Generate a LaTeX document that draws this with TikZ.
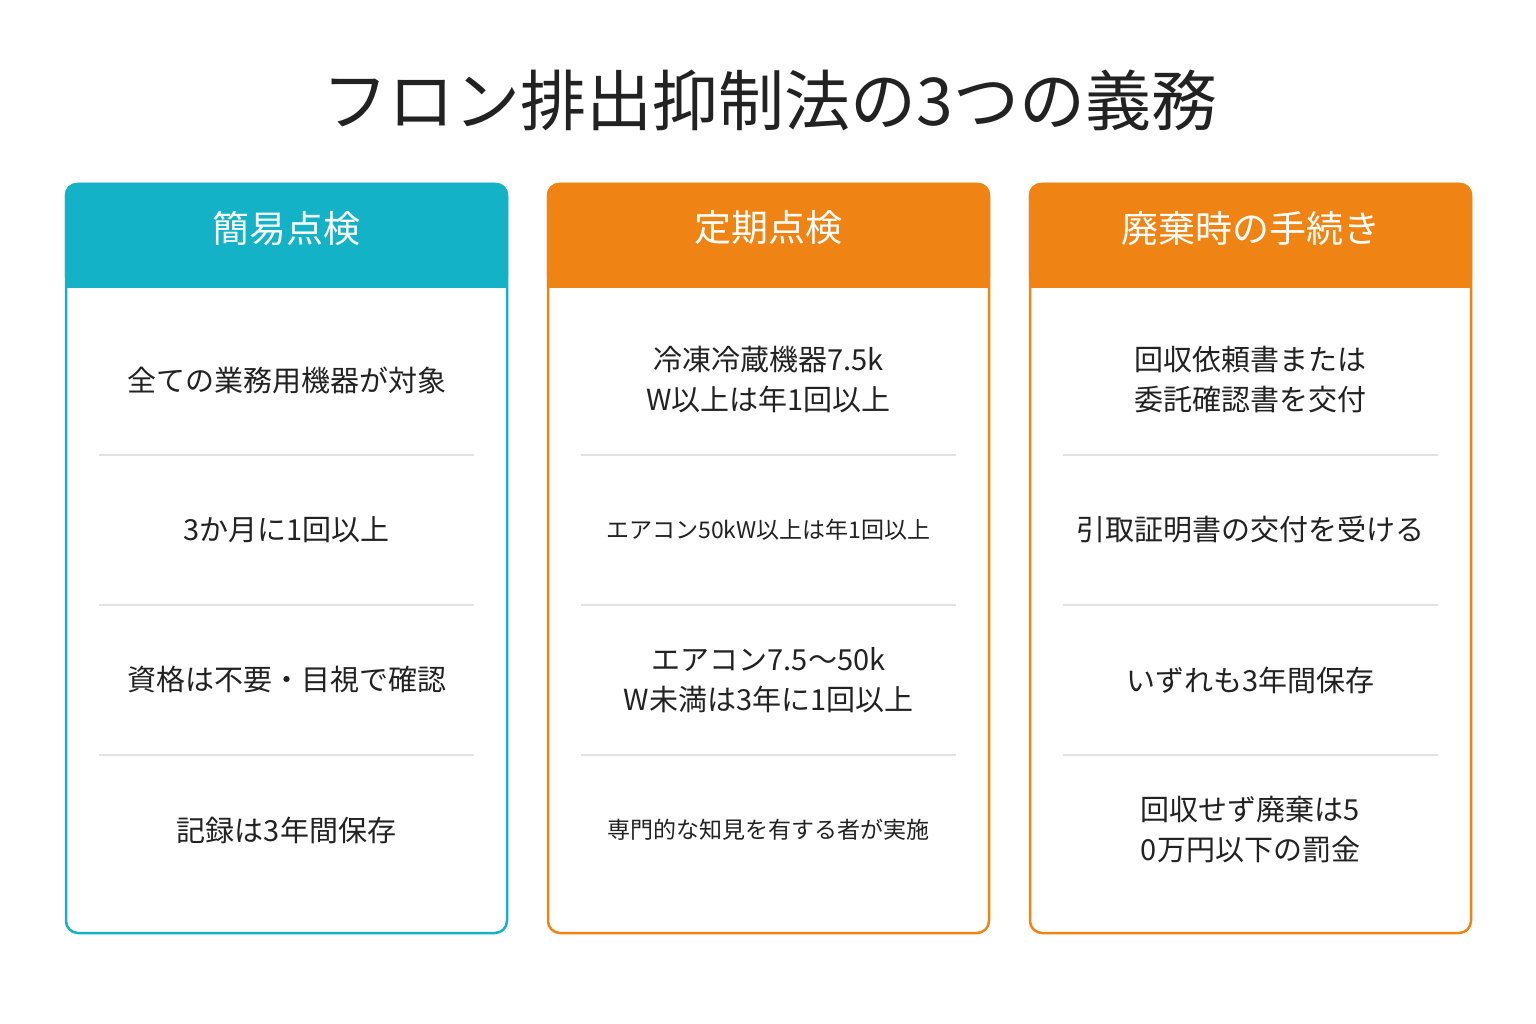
\documentclass[tikz,border=0pt]{standalone}
\usepackage{fontspec}
\setmainfont{Noto Sans CJK JP}
\begin{document}
\begin{tikzpicture}[x=1pt,y=-1pt,
  txt/.style={text=textc,align=center,font=\fontsize{29}{40}\selectfont},
  small/.style={text=textc,align=center,font=\fontsize{23}{30}\selectfont},
  head/.style={text=white,font=\fontsize{37}{44}\selectfont},
  div/.style={draw=divc,line width=1.5pt}]
\definecolor{teal}{HTML}{14B2C6}
\definecolor{orng}{HTML}{EF8313}
\definecolor{textc}{HTML}{222222}
\definecolor{divc}{HTML}{E2E2E2}
\useasboundingbox (0,0) rectangle (1536,1024);
\fill[white] (0,0) rectangle (1536,1024);
\node[text=textc,font=\fontsize{66}{72}\selectfont] (title) at (770,100) {フロン排出抑制法の3つの義務};
% cards
\foreach \x/\c/\n in {66/teal/a,548/orng/b,1030/orng/c}{
  \draw[\c,line width=2.5pt,fill=white,rounded corners=12] (\x,184) rectangle (\x+441,933);
  \fill[\c,rounded corners=12] (\x-1.2,182.8) rectangle (\x+442.2,288);
  \fill[\c] (\x-1.2,260) rectangle (\x+442.2,288);
  \foreach \y in {455,605,755}{\draw[div] (\x+33,\y) -- (\x+408,\y);}
}
\node[head] (ha) at (286.5,228) {簡易点検};
\node[head] (hb) at (768.5,228) {定期点検};
\node[head] (hc) at (1250.5,228) {廃棄時の手続き};
\node[txt] (a1) at (286.5,380) {全ての業務用機器が対象};
\node[txt] (a2) at (286.5,530) {3か月に1回以上};
\node[txt] (a3) at (286.5,680) {資格は不要・目視で確認};
\node[txt] (a4) at (286.5,830) {記録は3年間保存};
\node[txt] (b1) at (768.5,380) {冷凍冷蔵機器7.5k\\W以上は年1回以上};
\node[small] (b2) at (768.5,530) {エアコン50kW以上は年1回以上};
\node[txt] (b3) at (768.5,680) {エアコン7.5〜50k\\W未満は3年に1回以上};
\node[small] (b4) at (768.5,830) {専門的な知見を有する者が実施};
\node[txt] (c1) at (1250.5,380) {回収依頼書または\\委託確認書を交付};
\node[txt] (c2) at (1250.5,530) {引取証明書の交付を受ける};
\node[txt] (c3) at (1250.5,680) {いずれも3年間保存};
\node[txt] (c4) at (1250.5,830) {回収せず廃棄は5\\0万円以下の罰金};
\end{tikzpicture}
\end{document}
